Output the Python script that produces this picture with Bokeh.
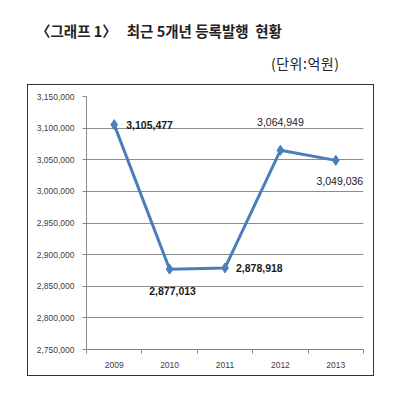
from bokeh.plotting import figure
from bokeh.models import (Label, FixedTicker, NumeralTickFormatter,
                          Range1d, ColumnDataSource, Div)
from bokeh.layouts import column
from bokeh.embed import file_html
from bokeh.resources import INLINE

# ---- data ----
years = ["2009", "2010", "2011", "2012", "2013"]
amounts = [3105477, 2877013, 2878918, 3064949, 3049036]
y_ticks = [2750000, 2800000, 2850000, 2900000, 2950000, 3000000, 3050000, 3100000, 3150000]
title_text = "〈그래프 1〉&nbsp;&nbsp; 최근 5개년 등록발행&nbsp; 현황"
unit_text = "(단위:억원)"

# label styling (offsets in px, alignment, weight)
lbl_dx = [12, 3, 11, 0, 4]
lbl_dy = [0, -22, 0, 28, -21]
lbl_align = ["left", "center", "left", "center", "center"]
lbl_bold = [True, True, True, False, False]

xs = [int(y) for y in years]

header = Div(
    text=(
        '<div style="position:relative;width:392px;height:84px;'
        'font-family:\'Noto Sans CJK KR\';color:#222;">'
        f'<span style="position:absolute;left:36px;top:21px;font-size:14.5px;'
        f'font-weight:bold;line-height:20px;white-space:nowrap;">{title_text}</span>'
        f'<span style="position:absolute;left:271px;top:54px;font-size:14px;'
        f'letter-spacing:0.5px;line-height:18px;white-space:nowrap;">{unit_text}</span>'
        '</div>'
    ),
    width=392, height=84, margin=0,
)

p = figure(width=345, height=290, output_backend="svg", toolbar_location=None,
           x_range=Range1d(xs[0] - 0.5, xs[-1] + 0.5),
           y_range=Range1d(y_ticks[0], y_ticks[-1]),
           min_border_left=58, min_border_right=10,
           min_border_top=11, min_border_bottom=26,
           margin=(1, 0, 0, 28))
p.styles = {"outline": "1.5px solid #333333"}
p.outline_line_color = None
p.background_fill_color = "white"
p.border_fill_color = "white"

# axes
p.xaxis.ticker = FixedTicker(ticks=xs, minor_ticks=[x - 0.5 for x in xs] + [xs[-1] + 0.5])
p.xaxis.major_tick_out = 0
p.xaxis.major_tick_in = 0
p.xaxis.minor_tick_out = 4
p.xaxis.minor_tick_in = 0
p.xaxis.minor_tick_line_color = "#868686"
p.xaxis.axis_line_color = "#868686"
p.xaxis.major_label_text_font = "Liberation Sans"
p.xaxis.major_label_text_font_size = "8.5px"
p.xaxis.major_label_text_color = "#404040"
p.xaxis.major_label_standoff = 8

p.yaxis.ticker = FixedTicker(ticks=y_ticks)
p.yaxis.formatter = NumeralTickFormatter(format="0,0")
p.yaxis.major_tick_out = 4
p.yaxis.major_tick_in = 0
p.yaxis.minor_tick_line_color = None
p.yaxis.major_tick_line_color = "#868686"
p.yaxis.axis_line_color = "#868686"
p.yaxis.major_label_text_font = "Liberation Sans"
p.yaxis.major_label_text_font_size = "8.5px"
p.yaxis.major_label_text_color = "#404040"
p.yaxis.major_label_standoff = 8

p.xgrid.grid_line_color = None
p.ygrid.grid_line_color = "#8c8c8c"
p.ygrid.grid_line_width = 1

# series
src = ColumnDataSource(dict(x=xs, y=amounts))
p.line("x", "y", source=src, line_color="#4a7ebb", line_width=3)
p.scatter("x", "y", source=src, marker="diamond", size=10, fill_color="#4a7ebb",
          line_color="#4a7ebb")

for x, yv, dx, dy, al, b in zip(xs, amounts, lbl_dx, lbl_dy, lbl_align, lbl_bold):
    p.add_layout(Label(x=x, y=yv, text=f"{yv:,}", x_offset=dx, y_offset=dy,
                       text_align=al, text_baseline="middle",
                       text_font="Liberation Sans", text_font_size="10.5px",
                       text_font_style="bold" if b else "normal",
                       text_color="#1a1a1a", level="overlay"))

layout = column(header, p, spacing=0)
open("out.html", "w").write(file_html(layout, INLINE))
